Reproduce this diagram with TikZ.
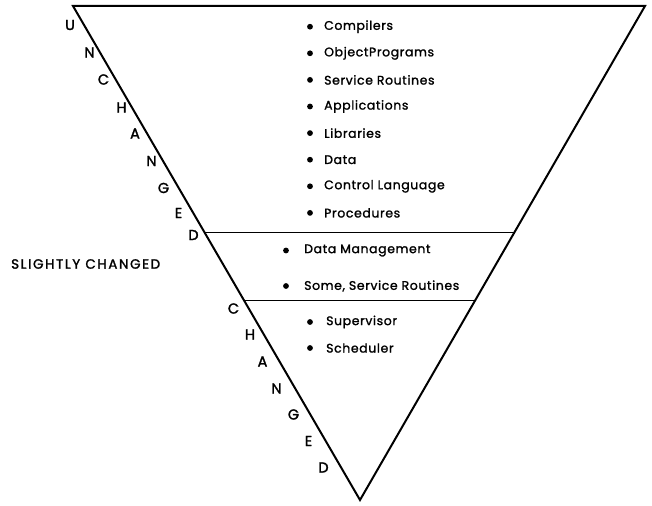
\documentclass[tikz,border=0pt]{standalone}
\usepackage{fontspec}
\setmainfont{Poppins}
\newfontfamily\listfont[LetterSpace=5,FakeBold=1.4]{Poppins}
\newfontfamily\sidefont[FakeBold=1.8]{Poppins}
\newfontfamily\labfont[LetterSpace=12,FakeBold=1.6]{Poppins}
\usetikzlibrary{calc}
\begin{document}
\begin{tikzpicture}[x=1bp,y=-1bp,
  tri/.style={line width=2pt,line join=miter},
  sep/.style={line width=0.9pt},
  item/.style={anchor=west,inner sep=0pt,font=\listfont\fontsize{12.5}{14}\selectfont},
  dot/.style={circle,fill=black,inner sep=0pt,minimum size=5.8bp},
  side/.style={inner sep=0pt,font=\sidefont\fontsize{14.5}{16}\selectfont},
  lab/.style={inner sep=0pt,anchor=west,font=\labfont\fontsize{13.5}{15}\selectfont}]
\useasboundingbox (0,0) rectangle (652,506);
\coordinate (tl) at (73,6);
\coordinate (tr) at (645,6);
\coordinate (b) at (360,500);
\draw[tri] (tl) -- (tr) -- (b) -- cycle;
% separators
\coordinate (s1l) at ($(tl)!0.4575!(b)$);
\coordinate (s1r) at ($(tr)!0.4575!(b)$);
\coordinate (s2l) at ($(tl)!0.5951!(b)$);
\coordinate (s2r) at ($(tr)!0.5951!(b)$);
\draw[sep] (s1l) -- (s1r);
\draw[sep] (s2l) -- (s2r);
% top items
\foreach \t [count=\i] in {Compilers,ObjectPrograms,Service Routines,Applications,Libraries,Data,Control Language,Procedures}{
  \pgfmathsetmacro{\yy}{26.7+(\i-1)*26.6}
  \node[dot] (ta\i) at (310,\yy) {};
  \node[item] (tb\i) at (324,\yy) {\t};
}
% middle items
\node[dot] (ma1) at (286,250.5) {};
\node[item] (mb1) at (304,250.5) {Data Management};
\node[dot] (ma2) at (286,286) {};
\node[item] (mb2) at (304,286) {Some, Service Routines};
% bottom items
\node[dot] (ba1) at (310,322) {};
\node[item] (bb1) at (326,322) {Supervisor};
\node[dot] (ba2) at (310,348) {};
\node[item] (bb2) at (326,348) {Scheduler};
% side letters
\node[side] (u1) at (70,25) {U};
\node[side] (u2) at (89.5,52.5) {N};
\node[side] (u3) at (103.5,79.5) {C};
\node[side] (u4) at (121.5,107.5) {H};
\node[side] (u5) at (135,133.5) {A};
\node[side] (u6) at (151.5,161) {N};
\node[side] (u7) at (163.5,188) {G};
\node[side] (u8) at (178.5,213) {E};
\node[side] (u9) at (193.5,235) {D};
\node[side] (c1) at (233.5,308.5) {C};
\node[side] (c2) at (250,334.5) {H};
\node[side] (c3) at (262.5,361.5) {A};
\node[side] (c4) at (276.5,388.5) {N};
\node[side] (c5) at (293.5,414.5) {G};
\node[side] (c6) at (308.5,441) {E};
\node[side] (c7) at (323.5,467.5) {D};
\node[lab] (sl) at (11,264) {SLIGHTLY CHANGED};
\end{tikzpicture}
\end{document}
